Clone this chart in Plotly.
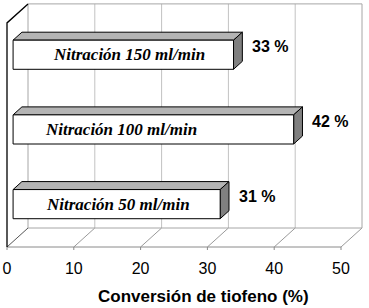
import plotly.graph_objects as go

# ---- data ----
categories = ["Nitración 50 ml/min", "Nitración 100 ml/min", "Nitración 150 ml/min"]
conversion = [31, 42, 33]
value_labels = ["31 %", "42 %", "33 %"]
tick_values = [0, 10, 20, 30, 40, 50]
axis_title = "Conversión de tiofeno (%)"

# ---- geometry (pseudo 3D) ----
W, H = 369, 308
PX_X = 6.68          # pixels per % unit
PX_Y = 74.7          # pixels per category band
DX = 21 / PX_X       # depth offset in x units
DY = 19 / PX_Y       # depth offset in category units
F0, F1 = 0.29, 0.71  # bar depth span (fraction of depth)
HW = 0.195           # half bar thickness (category units)
XMAX = 50
NCAT = len(categories)
label_center = [15.7, 16.2, 17.4]   # label centres along x (units)

x0 = -7 / PX_X
x1 = x0 + W / PX_X
PLOT_H = 252
y0 = -5 / PX_Y
y1 = y0 + PLOT_H / PX_Y


def P(x, y, f):
    return x + DX * f, y + DY * f


def seg_trace(segs, color, width=1):
    xs, ys = [], []
    for a, b in segs:
        xs += [a[0], b[0], None]
        ys += [a[1], b[1], None]
    return go.Scatter(x=xs, y=ys, mode="lines", line=dict(color=color, width=width),
                      hoverinfo="skip", showlegend=False)


def poly_trace(pts, fill, lw=1):
    xs = [p[0] for p in pts] + [pts[0][0]]
    ys = [p[1] for p in pts] + [pts[0][1]]
    return go.Scatter(x=xs, y=ys, mode="lines", fill="toself", fillcolor=fill,
                      line=dict(color="black", width=lw), hoverinfo="skip", showlegend=False)


fig = go.Figure()
grid = "#c2c2c2"
edge = "#a6a6a6"

# back-wall gridlines
fig.add_trace(seg_trace([(P(t, 0, 1), P(t, NCAT, 1)) for t in tick_values[1:-1]], grid))
# floor diagonals
fig.add_trace(seg_trace([(P(t, 0, 0), P(t, 0, 1)) for t in tick_values[1:]], "#9a9a9a"))
# floor back line, back wall top & right edges, left wall back edge
fig.add_trace(seg_trace([
    (P(0, 0, 1), P(XMAX, 0, 1)),
    (P(0, NCAT, 1), P(XMAX, NCAT, 1)),
    (P(XMAX, 0, 1), P(XMAX, NCAT, 1)),
    (P(0, 0, 1), P(0, NCAT, 1)),
], edge))
# floor front edge and tick marks
fig.add_trace(seg_trace([(P(0, 0, 0), P(XMAX, 0, 0))] +
                        [((t, 0), (t, -3 / PX_Y)) for t in tick_values], "#8a8a8a"))
# left wall edges
fig.add_trace(seg_trace([(P(0, 0, 0), P(0, 0, 1))], "#555555"))
fig.add_trace(go.Scatter(x=[P(0, 0, 0)[0], P(0, NCAT, 0)[0], P(0, NCAT, 1)[0]],
                         y=[P(0, 0, 0)[1], P(0, NCAT, 0)[1], P(0, NCAT, 1)[1]],
                         mode="lines", line=dict(color="black", width=1.3),
                         hoverinfo="skip", showlegend=False))

# bars
for i, v in enumerate(conversion):
    c = i + 0.5
    lo, hi = c - HW, c + HW
    top = [P(0, hi, F0), P(v, hi, F0), P(v, hi, F1), P(0, hi, F1)]
    side = [P(v, lo, F0), P(v, lo, F1), P(v, hi, F1), P(v, hi, F0)]
    front = [P(0, lo, F0), P(v, lo, F0), P(v, hi, F0), P(0, hi, F0)]
    fig.add_trace(poly_trace(top, "#b4b4b4"))
    fig.add_trace(poly_trace(side, "#808080"))
    fig.add_trace(poly_trace(front, "white"))

annotations = []
for i, (cat, v, lab) in enumerate(zip(categories, conversion, value_labels)):
    c = i + 0.5
    lx, ly = P(label_center[i], c, F0)
    annotations.append(dict(x=lx, y=ly, xref="x", yref="y", text=cat, showarrow=False,
                            xanchor="center", yanchor="middle",
                            font=dict(family="Liberation Serif", size=17, color="black",
                                      weight="bold", style="italic")))
    vx, vy = P(v, c, F1)
    annotations.append(dict(x=vx, y=vy, xref="x", yref="y", text=lab, showarrow=False,
                            xanchor="left", yanchor="middle", xshift=8,
                            font=dict(family="Liberation Sans", size=16, color="black",
                                      weight="bold")))
annotations.append(dict(x=203.5 / W, y=(PLOT_H - 296) / PLOT_H, xref="paper", yref="paper",
                        text=axis_title, showarrow=False, xanchor="center", yanchor="middle",
                        font=dict(family="Liberation Sans", size=17, color="black",
                                  weight="bold")))

fig.update_layout(
    width=W, height=H,
    margin=dict(l=0, r=0, t=0, b=H - PLOT_H),
    paper_bgcolor="white", plot_bgcolor="white",
    showlegend=False,
    annotations=annotations,
    xaxis=dict(range=[x0, x1], showgrid=False, zeroline=False, showline=False,
               ticks="", tickvals=tick_values, ticktext=[str(t) for t in tick_values],
               tickfont=dict(family="Liberation Sans", size=16, color="black"),
               ticklabelstandoff=5, fixedrange=True),
    yaxis=dict(range=[y0, y1], visible=False, fixedrange=True),
)

fig.write_html("out.html", config={"displayModeBar": False},
               post_script="document.body.style.margin='0';document.body.style.overflow='hidden';")
